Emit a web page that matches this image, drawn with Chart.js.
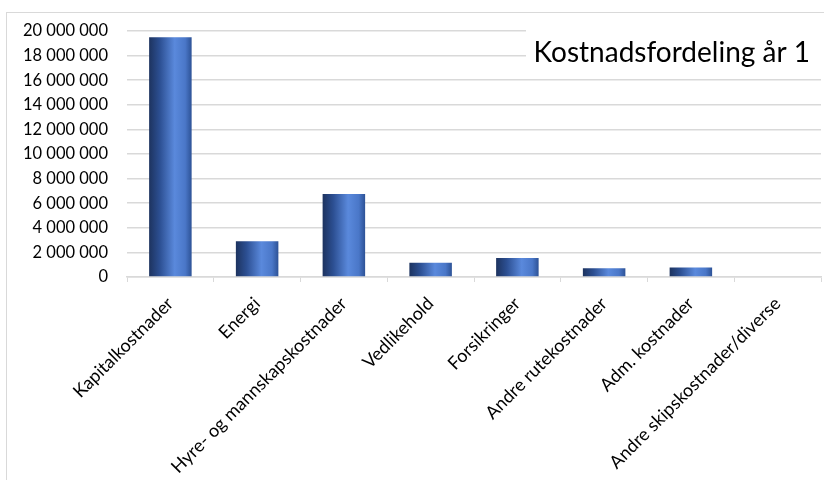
<!DOCTYPE html>
<html>
<head>
<meta charset="utf-8">
<script src="https://cdn.jsdelivr.net/npm/chart.js@4/dist/chart.umd.min.js"></script>
<style>
    html, body { margin: 0; padding: 0; background: #fff; overflow: hidden; }
    #frame { position: absolute; left: 6px; top: 12px; width: 840px; height: 490px; border: 1px solid #d9d9d9; }
    #kost { position: absolute; left: 0; top: 0; }
</style>
</head>
<body>
<div id="frame"></div>
<canvas id="kost" width="824" height="480"></canvas>
<script>
const kategorier = ["Kapitalkostnader", "Energi", "Hyre- og mannskapskostnader", "Vedlikehold",
    "Forsikringer", "Andre rutekostnader", "Adm. kostnader", "Andre skipskostnader/diverse"];
const kostnader = [19500000, 2900000, 6750000, 1150000, 1550000, 720000, 770000, 0];
const tittel = "Kostnadsfordeling år 1";
const yMaks = 20000000;
const ySteg = 2000000;

const FONT = "Lato, 'Open Sans', sans-serif";
const stolpeAndel = 0.49;

// tallformat med mellomrom som tusenskille
function tusen(v) {
    return String(Math.round(v)).replace(/\B(?=(\d{3})+(?!\d))/g, " ");
}

// sylinderaktig skyggelegging på hver stolpe
function stolpeFarge(c) {
    const chart = c.chart;
    const xs = chart.scales.x;
    if (!chart.chartArea || !xs || c.dataIndex === undefined) return "#4472c4";
    const x = xs.getPixelForValue(c.dataIndex);
    const half = xs.width / kategorier.length * stolpeAndel / 2;
    const g = chart.ctx.createLinearGradient(x - half, 0, x + half, 0);
    g.addColorStop(0, "#1d335f");
    g.addColorStop(0.25, "#2c4f92");
    g.addColorStop(0.6, "#5a89dc");
    g.addColorStop(0.85, "#4a77c8");
    g.addColorStop(1, "#2d5296");
    return g;
}

const tittelPlugin = {
    id: "tittel",
    afterDraw(chart) {
        const ctx = chart.ctx;
        ctx.save();
        ctx.fillStyle = "#fff";
        ctx.fillRect(526, 26, 298, 40);
        ctx.font = "28px " + FONT;
        ctx.fillStyle = "#000";
        ctx.textAlign = "right";
        ctx.textBaseline = "middle";
        ctx.fillText(tittel, 810, 53);
        ctx.restore();
    }
};

new Chart(document.getElementById("kost"), {
    type: "bar",
    data: {
        labels: kategorier,
        datasets: [{
            data: kostnader,
            backgroundColor: stolpeFarge,
            categoryPercentage: 1,
            barPercentage: stolpeAndel
        }]
    },
    options: {
        responsive: false,
        animation: false,
        layout: { padding: { top: 31, right: 3, left: 0, bottom: 0 } },
        plugins: {
            legend: { display: false },
            tooltip: { enabled: false }
        },
        scales: {
            x: {
                afterFit(s) { s.height = 203; },
                grid: { offset: true, drawOnChartArea: false, color: "#d9d9d9", tickLength: 5, lineWidth: 1 },
                border: { color: "#d9d9d9", width: 1.5 },
                ticks: {
                    minRotation: 45, maxRotation: 45, autoSkip: false,
                    color: "#000", padding: 11,
                    font: { family: FONT, size: 18 }
                }
            },
            y: {
                min: 0, max: yMaks,
                afterFit(s) { s.width = 127; },
                grid: { color: "#d9d9d9", lineWidth: 1.5, drawTicks: false },
                border: { display: false },
                ticks: {
                    stepSize: ySteg, padding: 19, color: "#000",
                    font: { family: FONT, size: 16.5 },
                    callback: (v) => tusen(v)
                }
            }
        }
    },
    plugins: [tittelPlugin]
});
</script>
</body>
</html>
